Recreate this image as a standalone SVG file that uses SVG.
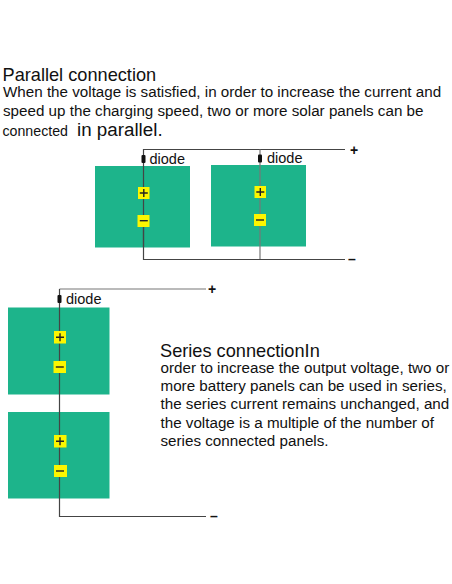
<svg xmlns="http://www.w3.org/2000/svg" width="452" height="584" viewBox="0 0 452 584">
<style>
text{font-family:"Liberation Sans",Arial,sans-serif;fill:#111}
.h{font-size:18.2px}.b{font-size:15.2px}.l{font-size:14.5px}.s{font-size:14px;font-weight:bold;text-anchor:middle}
.panel{fill:#1db48b}.term{fill:#fcf600}.w{fill:none;stroke:#444;stroke-width:1.2}.g{fill:none;stroke:#777;stroke-width:1.2}
.d{fill:#111}.m{fill:#222}
</style>
<rect width="452" height="584" fill="#fff"/>
<g id="intro">
<text class="h" x="2.500" y="80.500">Parallel connection</text>
<text class="b" x="3" y="97">When the voltage is satisfied, in order to increase the current and</text>
<text class="b" x="3" y="115.500">speed up the charging speed, two or more solar panels can be</text>
<text x="2.500" y="135.500"><tspan style="font-size:14.200px">connected</tspan><tspan x="77" style="font-size:18.800px">in parallel.</tspan></text>
</g>
<g id="panel-p1"><rect class="panel" x="95" y="166" width="95" height="81.500"/></g>
<g id="panel-p2"><rect class="panel" x="211" y="165" width="95" height="81.500"/></g>
<g id="panel-s1"><rect class="panel" x="8" y="307.500" width="101.500" height="87"/></g>
<g id="panel-s2"><rect class="panel" x="8" y="412" width="101.500" height="86.500"/></g>
<g id="connectors">
<path class="w" d="M143.500 247V149.500H345"/>
<path class="g" d="M260 149.500V259.500"/>
<path class="w" d="M143.500 220V259.500H345"/>
<path class="g" d="M59.500 289H206"/>
<path class="w" d="M59.500 289V516.500H206"/>
</g>
<g id="term-p1-plus"><rect class="term" x="138" y="187" width="11.500" height="12"/><path class="m" d="M139.800 192.300h8v1.400h-8zM143.100 189h1.400v8h-1.400z"/></g>
<g id="term-p1-minus"><rect class="term" x="137.500" y="215" width="12" height="12"/><rect class="m" x="139.800" y="220" width="8" height="1.400"/></g>
<g id="term-p2-plus"><rect class="term" x="254.500" y="186" width="11.500" height="12"/><path class="m" d="M256.300 191.300h8v1.400h-8zM259.600 188h1.400v8h-1.400z"/></g>
<g id="term-p2-minus"><rect class="term" x="254" y="214" width="12" height="12"/><rect class="m" x="256" y="219.300" width="8" height="1.400"/></g>
<g id="term-s1-plus"><rect class="term" x="54" y="331" width="12" height="12.500"/><path class="m" d="M56 336.500h8v1.400h-8zM59.300 333.200h1.400v8h-1.400z"/></g>
<g id="term-s1-minus"><rect class="term" x="53.500" y="361" width="12.500" height="12"/><rect class="m" x="55.800" y="366.300" width="8" height="1.400"/></g>
<g id="term-s2-plus"><rect class="term" x="54" y="435" width="12.500" height="12.500"/><path class="m" d="M56 440.500h8v1.400h-8zM59.300 437.200h1.400v8h-1.400z"/></g>
<g id="term-s2-minus"><rect class="term" x="54" y="465" width="13" height="12"/><rect class="m" x="56" y="470.300" width="8" height="1.400"/></g>
<g id="diode-p1"><rect class="d" x="141.500" y="155" width="4" height="8" rx="1"/><text class="l" x="149.500" y="163.500">diode</text></g>
<g id="diode-p2"><rect class="d" x="258" y="154.500" width="4" height="8" rx="1"/><text class="l" x="267" y="163">diode</text></g>
<g id="diode-s1"><rect class="d" x="57.500" y="295" width="4" height="8" rx="1"/><text class="l" x="66" y="304">diode</text></g>
<g id="signs">
<text class="s" x="354" y="154.500">+</text>
<text class="s" x="352" y="264">–</text>
<text class="s" x="212" y="293.500">+</text>
<text class="s" x="214" y="521">–</text>
</g>
<g id="series-text">
<text class="h" x="160" y="357">Series connectionIn</text>
<text class="b" x="160.500" y="372.500">order to increase the output voltage, two or</text>
<text class="b" x="160.500" y="391">more battery panels can be used in series,</text>
<text class="b" x="160.500" y="409">the series current remains unchanged, and</text>
<text class="b" x="160.500" y="427.500">the voltage is a multiple of the number of</text>
<text class="b" x="160.500" y="445.500">series connected panels.</text>
</g>
</svg>
